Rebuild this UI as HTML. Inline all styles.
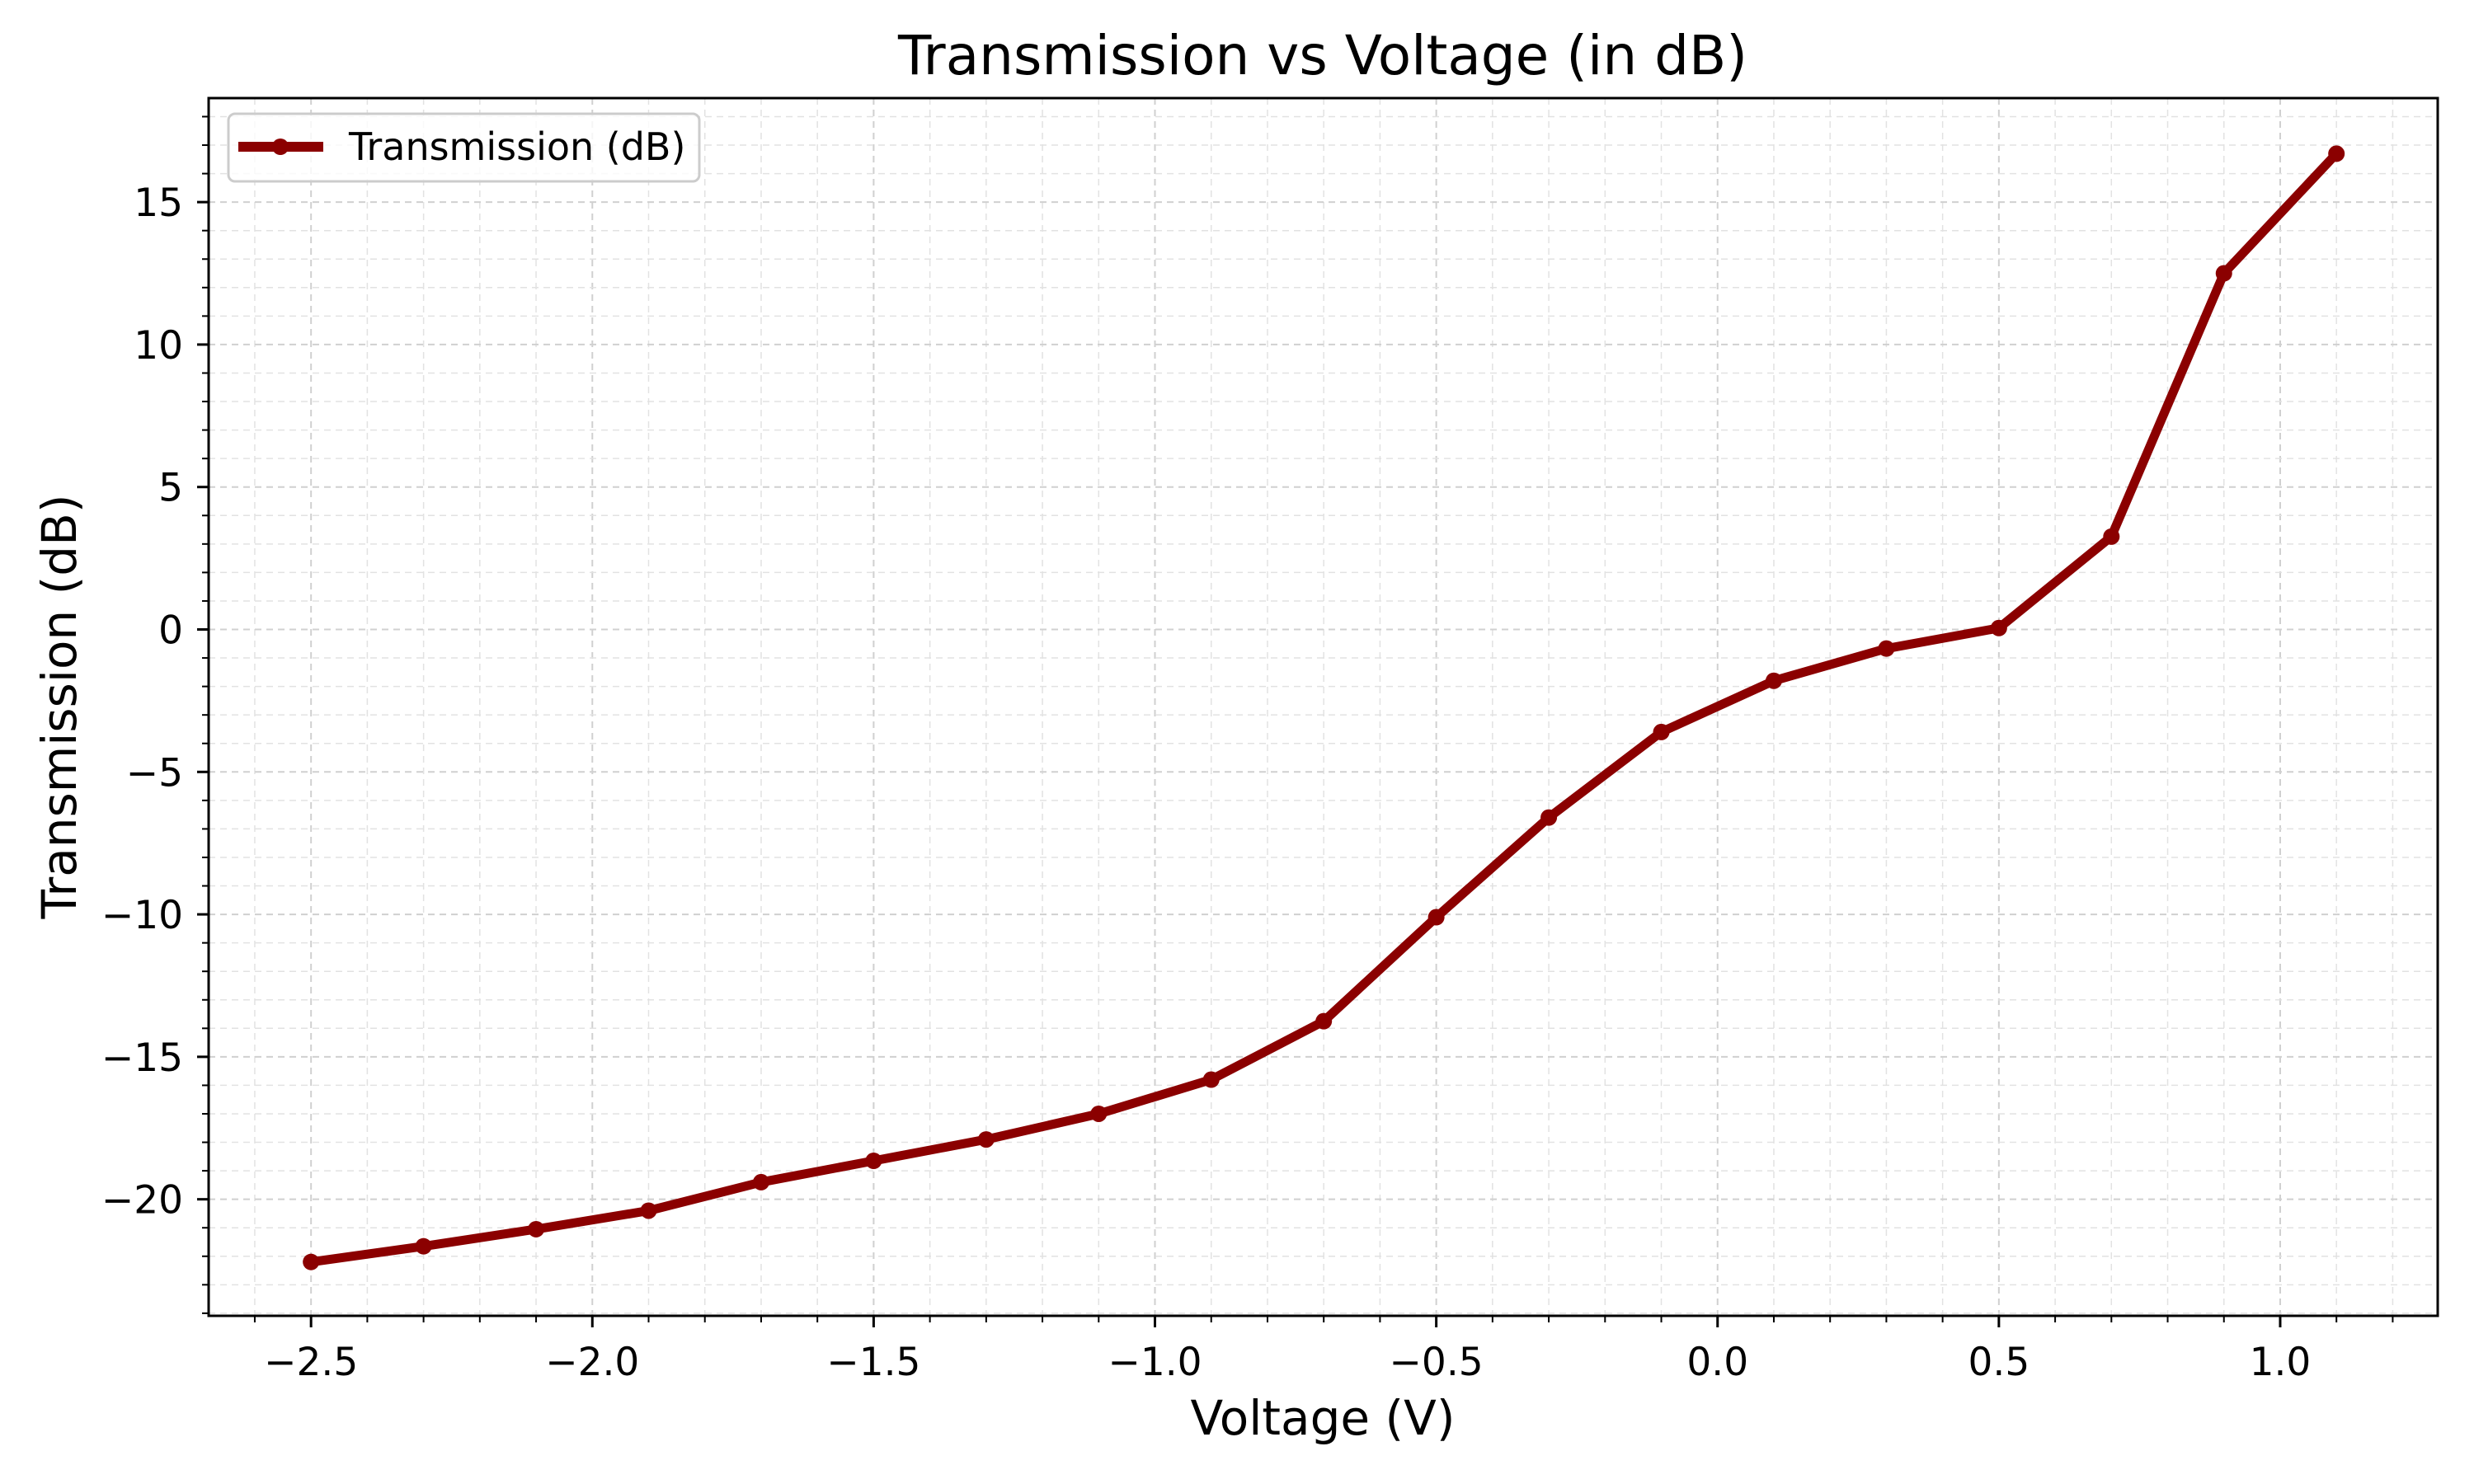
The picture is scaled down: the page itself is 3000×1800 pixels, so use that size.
<!DOCTYPE html>
<html><head><meta charset="utf-8"><style>
html,body{margin:0;padding:0;background:#fff;}
svg{display:block;font-family:"DejaVu Sans","Liberation Sans",sans-serif;}
</style></head><body>
<svg id="chart" width="3000" height="1800" viewBox="0 0 3000 1800" xmlns="http://www.w3.org/2000/svg">
<rect width="3000" height="1800" fill="#fff"/>
<g id="grid"></g>
<g id="ticks"></g>
<g id="series"></g>
<rect x="253" y="119" width="2703" height="1477" fill="none" stroke="#000" stroke-width="3"/>
<text x="1604" y="90" font-size="66" text-anchor="middle">Transmission vs Voltage (in dB)</text>
<text x="1604" y="1740" font-size="58" text-anchor="middle">Voltage (V)</text>
<text x="0" y="0" font-size="58" text-anchor="middle" transform="translate(92,857) rotate(-90)">Transmission (dB)</text>
<g>
<rect x="277" y="138" width="571" height="82" rx="8" fill="#fff" fill-opacity="0.8" stroke="#ccc" stroke-width="3"/>
<line x1="289" y1="178" x2="392" y2="178" stroke="#8b0000" stroke-width="12"/>
<circle cx="340" cy="178" r="10" fill="#8b0000"/>
<text x="423" y="194" font-size="46">Transmission (dB)</text>
</g>
</svg>
<script>
const voltages = [-2.5,-2.3,-2.1,-1.9,-1.7,-1.5,-1.3,-1.1,-0.9,-0.7,-0.5,-0.3,-0.1,0.1,0.3,0.5,0.7,0.9,1.1];
const transmission = [-22.2,-21.65,-21.05,-20.4,-19.4,-18.65,-17.9,-17.0,-15.8,-13.75,-10.1,-6.6,-3.6,-1.8,-0.67,0.05,3.26,12.5,16.7];
const xTicks = [-2.5,-2.0,-1.5,-1.0,-0.5,0.0,0.5,1.0];
const xTickLabels = ["\u22122.5","\u22122.0","\u22121.5","\u22121.0","\u22120.5","0.0","0.5","1.0"];
const yTicks = [-20,-15,-10,-5,0,5,10,15];
const yTickLabels = ["\u221220","\u221215","\u221210","\u22125","0","5","10","15"];

const L=253,R=2956,T=119,B=1596;
const xMin=-2.682,xMax=1.28,yMin=-24.09,yMax=18.65;
const sx=v=>L+(v-xMin)/(xMax-xMin)*(R-L);
const sy=v=>B-(v-yMin)/(yMax-yMin)*(B-T);
const NS="http://www.w3.org/2000/svg";
function mk(tag,attrs,parent){const e=document.createElementNS(NS,tag);for(const k in attrs)e.setAttribute(k,attrs[k]);parent.appendChild(e);return e;}
const grid=document.getElementById('grid'),ticks=document.getElementById('ticks'),series=document.getElementById('series');

for(let i=-27;i<=12;i++){const v=i/10;if(v<xMin||v>xMax)continue;const x=sx(v);const major=Math.abs(i%5)===0;
 const g=mk('line',{x1:x,y1:T,x2:x,y2:B,stroke:major?'#d0d0d0':'#e2e2e2','stroke-width':major?2:1.5,'stroke-dasharray':'8,6'},grid);
 
 
 const t=mk('line',{x1:x,y1:B,x2:x,y2:B+(major?14:8),stroke:'#000','stroke-width':major?3:2},ticks);
 
 
}
for(let i=-24;i<=18;i++){const y=sy(i);const major=i%5===0;
 const g=mk('line',{x1:L,y1:y,x2:R,y2:y,stroke:major?'#d0d0d0':'#e2e2e2','stroke-width':major?2:1.5,'stroke-dasharray':'8,6'},grid);
 
 
 const t=mk('line',{x1:L,y1:y,x2:L-(major?14:8),y2:y,stroke:'#000','stroke-width':major?3:2},ticks);
 
 
}
xTicks.forEach((v,i)=>{const t=mk('text',{x:sx(v),y:1668,'font-size':47,'text-anchor':'middle'},ticks);t.textContent=xTickLabels[i];
 
 });
yTicks.forEach((v,i)=>{const t=mk('text',{x:222,y:sy(v)+17,'font-size':47,'text-anchor':'end'},ticks);t.textContent=yTickLabels[i];
 
 });

const pts=voltages.map((v,i)=>sx(v)+','+sy(transmission[i])).join(' ');
const pl=mk('polyline',{points:pts,fill:'none',stroke:'#8b0000','stroke-width':11,'stroke-linejoin':'round','stroke-linecap':'round'},series);


voltages.forEach((v,i)=>{const c=mk('circle',{cx:sx(v),cy:sy(transmission[i]),r:10,fill:'#8b0000'},series);
 
 });
</script>
</body></html>
